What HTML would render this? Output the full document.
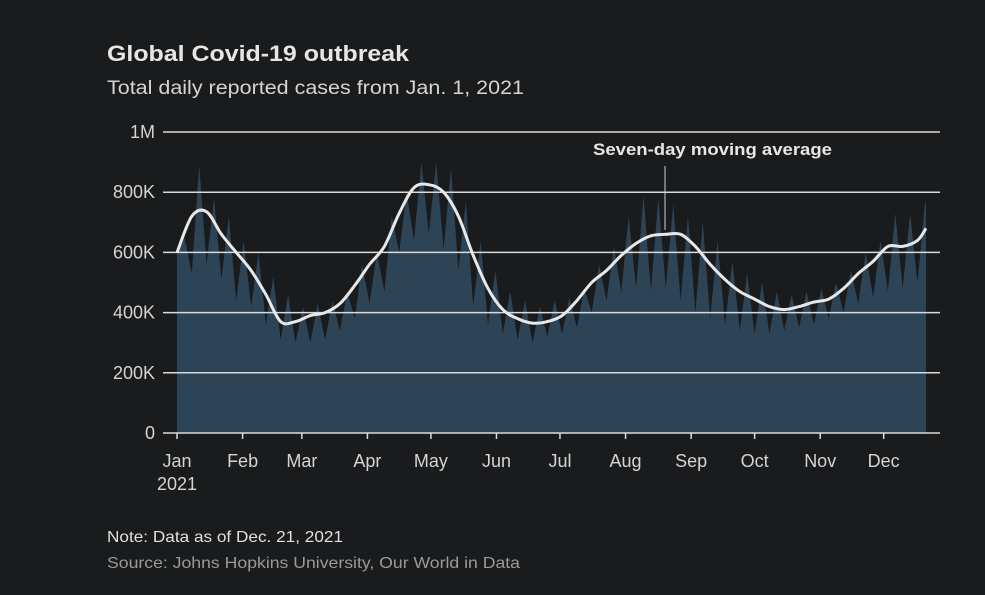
<!DOCTYPE html>
<html><head><meta charset="utf-8"><style>
html,body{margin:0;padding:0;background:#1a1b1d;}
svg{display:block;font-family:"Liberation Sans",sans-serif;}
</style></head><body>
<svg id="chart" width="985" height="595" viewBox="0 0 985 595">
<rect width="985" height="595" fill="#1a1b1d"/>
<text x="107" y="61" font-size="22" font-weight="bold" fill="#e6e6e6" textLength="302" lengthAdjust="spacingAndGlyphs">Global Covid-19 outbreak</text>
<text x="107" y="94" font-size="19" fill="#d4d4d4" textLength="417" lengthAdjust="spacingAndGlyphs">Total daily reported cases from Jan. 1, 2021</text>
<g id="grid"></g>
<g id="plot"></g>
<g id="xaxis"></g>
<text x="593" y="155" font-size="17" font-weight="bold" fill="#e6e6e6" textLength="239" lengthAdjust="spacingAndGlyphs">Seven-day moving average</text>
<line x1="665" y1="166" x2="665" y2="230" stroke="#cfcfcf" stroke-width="1"/>
<text x="107" y="542" font-size="16" fill="#e0e0e0" textLength="236" lengthAdjust="spacingAndGlyphs">Note: Data as of Dec. 21, 2021</text>
<text x="107" y="568" font-size="16" fill="#9a9a9a" textLength="413" lengthAdjust="spacingAndGlyphs">Source: Johns Hopkins University, Our World in Data</text>
</svg>
<script>
const yTicks = [0, 200, 400, 600, 800, 1000];
const yTickLabels = ["0", "200K", "400K", "600K", "800K", "1M"];
const monthLabels = ["Jan","Feb","Mar","Apr","May","Jun","Jul","Aug","Sep","Oct","Nov","Dec"];
const monthStartDays = [0,31,59,90,120,151,181,212,243,273,304,334];
const weeklyPeaks = [650,890,780,720,640,600,520,460,420,430,440,470,560,600,720,800,900,900,880,770,640,540,470,440,420,440,450,480,560,620,720,790,780,760,720,700,640,570,530,500,470,460,470,480,500,540,600,640,730,730,760];
const weeklyTroughs = [600,530,560,510,440,420,360,310,300,300,310,340,380,430,470,600,640,660,610,540,420,360,330,310,300,320,330,350,400,440,470,480,470,480,440,400,380,360,340,330,330,340,350,360,380,400,430,450,470,480,500];
const movingAvg = [600,720,735,660,600,540,460,370,370,390,400,430,490,560,620,730,815,825,800,720,590,480,410,380,365,370,390,440,500,540,590,630,655,660,660,620,560,510,470,445,420,410,420,435,445,480,530,570,620,620,640];
const lastDay = 354, lastDaily = 770, lastAvg = 680;

const X0=177, X1=926, Y0=433, Y1=132;
const x = d => X0 + d*(X1-X0)/lastDay;
const y = v => Y0 - v*(Y0-Y1)/1000;
const NS="http://www.w3.org/2000/svg";
function mk(tag, parent, attrs){const e=document.createElementNS(NS,tag);for(const k in attrs)e.setAttribute(k,attrs[k]);parent.appendChild(e);return e;}
const grid=document.getElementById('grid'), plot=document.getElementById('plot'), xa=document.getElementById('xaxis');

yTicks.forEach((t,i)=>{
  const tx=mk('text',grid,{x:155,y:y(t)+6,'text-anchor':'end','font-size':18,fill:'#d4d4d4'});
  tx.textContent=yTickLabels[i];
  
  
});

let pts=[[x(0),y(0)]];
weeklyPeaks.forEach((p,k)=>{
  pts.push([x(7*k), y(weeklyTroughs[k])]);
  pts.push([x(7*k+3.5), y(p)]);
});
pts.push([x(lastDay),y(lastDaily)]);
pts.push([x(lastDay),y(0)]);
const area=mk('path',plot,{d:'M'+pts.map(p=>p[0].toFixed(1)+','+p[1].toFixed(1)).join('L')+'Z',fill:'#2d4457'});



yTicks.forEach(t=>{
  const ln=mk('line',plot,{x1:163,x2:940,y1:y(t),y2:y(t),stroke:'#d9d9d9','stroke-width':1.5});
  
  
});

let ap=movingAvg.map((v,k)=>[x(7*k),y(v)]);
ap.push([x(lastDay),y(lastAvg)]);
let d='M'+ap[0][0].toFixed(1)+','+ap[0][1].toFixed(1);
for(let i=0;i<ap.length-1;i++){
  const p0=ap[Math.max(0,i-1)],p1=ap[i],p2=ap[i+1],p3=ap[Math.min(ap.length-1,i+2)];
  const c1=[p1[0]+(p2[0]-p0[0])/6,p1[1]+(p2[1]-p0[1])/6];
  const c2=[p2[0]-(p3[0]-p1[0])/6,p2[1]-(p3[1]-p1[1])/6];
  d+='C'+c1.map(n=>n.toFixed(1)).join(',')+' '+c2.map(n=>n.toFixed(1)).join(',')+' '+p2.map(n=>n.toFixed(1)).join(',');
}
const line=mk('path',plot,{d:d,fill:'none',stroke:'#e8e8e8','stroke-width':3,'stroke-linejoin':'round'});



monthLabels.forEach((m,i)=>{
  const xx=x(monthStartDays[i]);
  const tk=mk('line',xa,{x1:xx,x2:xx,y1:Y0,y2:Y0+6,stroke:'#d9d9d9','stroke-width':1.5});
  
  
  const tx=mk('text',xa,{x:xx,y:467,'text-anchor':'middle','font-size':18,fill:'#d4d4d4'});
  tx.textContent=m;
  
  
});
const yr=mk('text',xa,{x:x(0),y:490,'text-anchor':'middle','font-size':18,fill:'#d4d4d4'});
yr.textContent='2021';


</script>
</body></html>
